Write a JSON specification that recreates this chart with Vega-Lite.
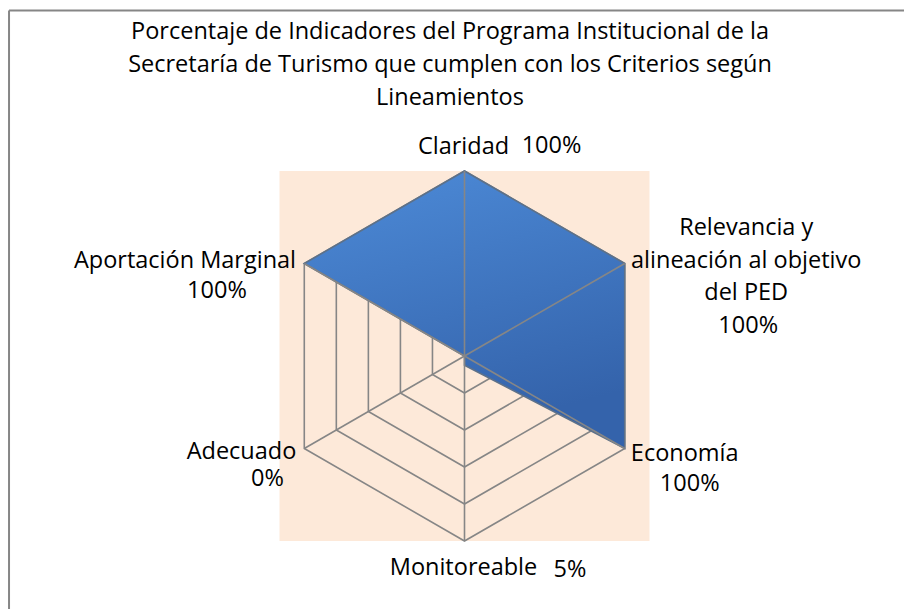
{
  "$schema": "https://vega.github.io/schema/vega-lite/v6.json",
  "width": 370,
  "height": 370,
  "autosize": {"type": "none"},
  "padding": {"left": 279.5, "top": 171, "right": 254.5, "bottom": 68},
  "background": "white",
  "title": {
    "text": ["Porcentaje de Indicadores del Programa Institucional de la", "Secretaría de Turismo que cumplen con los Criterios según", "Lineamientos"],
    "font": "Open Sans",
    "fontSize": 23.5,
    "fontWeight": "normal",
    "color": "#000000",
    "lineHeight": 33,
    "anchor": "middle",
    "frame": "group",
    "dx": -14.5,
    "offset": -100
  },
  "datasets": {
    "criterios": [
      {"criterio": "Claridad", "orden": 0, "valor": 100},
      {"criterio": "Relevancia y\nalineación al objetivo\ndel PED", "orden": 1, "valor": 100},
      {"criterio": "Economía", "orden": 2, "valor": 100},
      {"criterio": "Monitoreable", "orden": 3, "valor": 5},
      {"criterio": "Adecuado", "orden": 4, "valor": 0},
      {"criterio": "Aportación Marginal", "orden": 5, "valor": 100}
    ],
    "rejilla": [
      {"nivel": 20, "orden": [0, 1, 2, 3, 4, 5]},
      {"nivel": 40, "orden": [0, 1, 2, 3, 4, 5]},
      {"nivel": 60, "orden": [0, 1, 2, 3, 4, 5]},
      {"nivel": 80, "orden": [0, 1, 2, 3, 4, 5]},
      {"nivel": 100, "orden": [0, 1, 2, 3, 4, 5]}
    ],
    "marco": [{"borde": "marco"}]
  },
  "config": {
    "view": {"fill": "#fde9d9", "stroke": null},
    "text": {"font": "Open Sans", "fontSize": 23.5, "color": "#000000", "lineBreak": "\n", "lineHeight": 32.5, "baseline": "alphabetic"}
  },
  "layer": [
    {
      "data": {"name": "rejilla"},
      "transform": [
        {"flatten": ["orden"]},
        {"calculate": "datum.orden * PI / 3", "as": "ang"},
        {"calculate": "datum.nivel / 100 * sin(datum.ang)", "as": "px"},
        {"calculate": "datum.nivel / 100 * cos(datum.ang)", "as": "py"}
      ],
      "mark": {"type": "line", "interpolate": "linear-closed", "stroke": "#868686", "strokeWidth": 1.6},
      "encoding": {
        "x": {"field": "px", "type": "quantitative", "scale": {"domain": [-1, 1], "nice": false, "zero": false}, "axis": null},
        "y": {"field": "py", "type": "quantitative", "scale": {"domain": [-1, 1], "nice": false, "zero": false}, "axis": null},
        "detail": {"field": "nivel", "type": "nominal"},
        "order": {"field": "orden", "type": "quantitative"}
      }
    },
    {
      "data": {"name": "criterios"},
      "transform": [
        {"calculate": "datum.orden * PI / 3", "as": "ang"},
        {"calculate": "datum.valor / 100 * sin(datum.ang)", "as": "px"},
        {"calculate": "datum.valor / 100 * cos(datum.ang)", "as": "py"}
      ],
      "mark": {
        "type": "line",
        "interpolate": "linear-closed",
        "fill": {"gradient": "linear", "x1": 0, "y1": 0, "x2": 0.3, "y2": 1, "stops": [{"offset": 0, "color": "#4d8bd8"}, {"offset": 1, "color": "#3463ab"}]},
        "stroke": "#5d7189",
        "strokeWidth": 1.6
      },
      "encoding": {
        "x": {"field": "px", "type": "quantitative"},
        "y": {"field": "py", "type": "quantitative"},
        "order": {"field": "orden", "type": "quantitative"}
      }
    },
    {
      "data": {"name": "criterios"},
      "transform": [
        {"calculate": "datum.orden * PI / 3", "as": "ang"},
        {"calculate": "sin(datum.ang)", "as": "vx"},
        {"calculate": "cos(datum.ang)", "as": "vy"}
      ],
      "mark": {"type": "rule", "stroke": "#868686", "strokeWidth": 1.6},
      "encoding": {
        "x": {"field": "vx", "type": "quantitative"},
        "y": {"field": "vy", "type": "quantitative"},
        "x2": {"datum": 0},
        "y2": {"datum": 0}
      }
    },
    {
      "data": {"name": "marco"},
      "mark": {"type": "rule", "stroke": "#868686", "strokeWidth": 2},
      "encoding": {
        "x": {"datum": -2.462, "type": "quantitative"},
        "y": {"datum": 1.8676, "type": "quantitative"},
        "y2": {"datum": -1.8}
      }
    },
    {
      "data": {"name": "marco"},
      "mark": {"type": "rule", "stroke": "#868686", "strokeWidth": 2},
      "encoding": {
        "y": {"datum": 1.8676, "type": "quantitative"},
        "x": {"datum": -2.462, "type": "quantitative"},
        "x2": {"datum": 2.6}
      }
    },
    {
      "data": {"name": "criterios"},
      "transform": [
        {"calculate": "datum.orden * PI / 3", "as": "ang"},
        {"calculate": "sin(datum.ang)", "as": "vx"},
        {"calculate": "cos(datum.ang)", "as": "vy"},
        {"calculate": "datum.valor + '%'", "as": "pct"}
      ],
      "encoding": {
        "x": {"field": "vx", "type": "quantitative"},
        "y": {"field": "vy", "type": "quantitative"}
      },
      "layer": [
        {"transform": [{"filter": "datum.orden == 0"}], "mark": {"type": "text", "align": "center", "dx": -1, "dy": -17}, "encoding": {"text": {"field": "criterio", "type": "nominal"}}},
        {"transform": [{"filter": "datum.orden == 0"}], "mark": {"type": "text", "align": "center", "dx": 87, "dy": -18}, "encoding": {"text": {"field": "pct", "type": "nominal"}}},
        {"transform": [{"filter": "datum.orden == 1"}], "mark": {"type": "text", "align": "center", "dx": 121.5, "dy": -28.5}, "encoding": {"text": {"field": "criterio", "type": "nominal"}}},
        {"transform": [{"filter": "datum.orden == 1"}], "mark": {"type": "text", "align": "center", "dx": 123.5, "dy": 69}, "encoding": {"text": {"field": "pct", "type": "nominal"}}},
        {"transform": [{"filter": "datum.orden == 2"}], "mark": {"type": "text", "align": "center", "dx": 60, "dy": 12}, "encoding": {"text": {"field": "criterio", "type": "nominal"}}},
        {"transform": [{"filter": "datum.orden == 2"}], "mark": {"type": "text", "align": "center", "dx": 65, "dy": 42.5}, "encoding": {"text": {"field": "pct", "type": "nominal"}}},
        {"transform": [{"filter": "datum.orden == 3"}], "mark": {"type": "text", "align": "center", "dx": -1, "dy": 34}, "encoding": {"text": {"field": "criterio", "type": "nominal"}}},
        {"transform": [{"filter": "datum.orden == 3"}], "mark": {"type": "text", "align": "center", "dx": 105.5, "dy": 36}, "encoding": {"text": {"field": "pct", "type": "nominal"}}},
        {"transform": [{"filter": "datum.orden == 4"}], "mark": {"type": "text", "align": "center", "dx": -62.8, "dy": 10}, "encoding": {"text": {"field": "criterio", "type": "nominal"}}},
        {"transform": [{"filter": "datum.orden == 4"}], "mark": {"type": "text", "align": "center", "dx": -36.8, "dy": 37.5}, "encoding": {"text": {"field": "pct", "type": "nominal"}}},
        {"transform": [{"filter": "datum.orden == 5"}], "mark": {"type": "text", "align": "center", "dx": -119.3, "dy": 4}, "encoding": {"text": {"field": "criterio", "type": "nominal"}}},
        {"transform": [{"filter": "datum.orden == 5"}], "mark": {"type": "text", "align": "center", "dx": -87.3, "dy": 34.5}, "encoding": {"text": {"field": "pct", "type": "nominal"}}}
      ]
    }
  ]
}
